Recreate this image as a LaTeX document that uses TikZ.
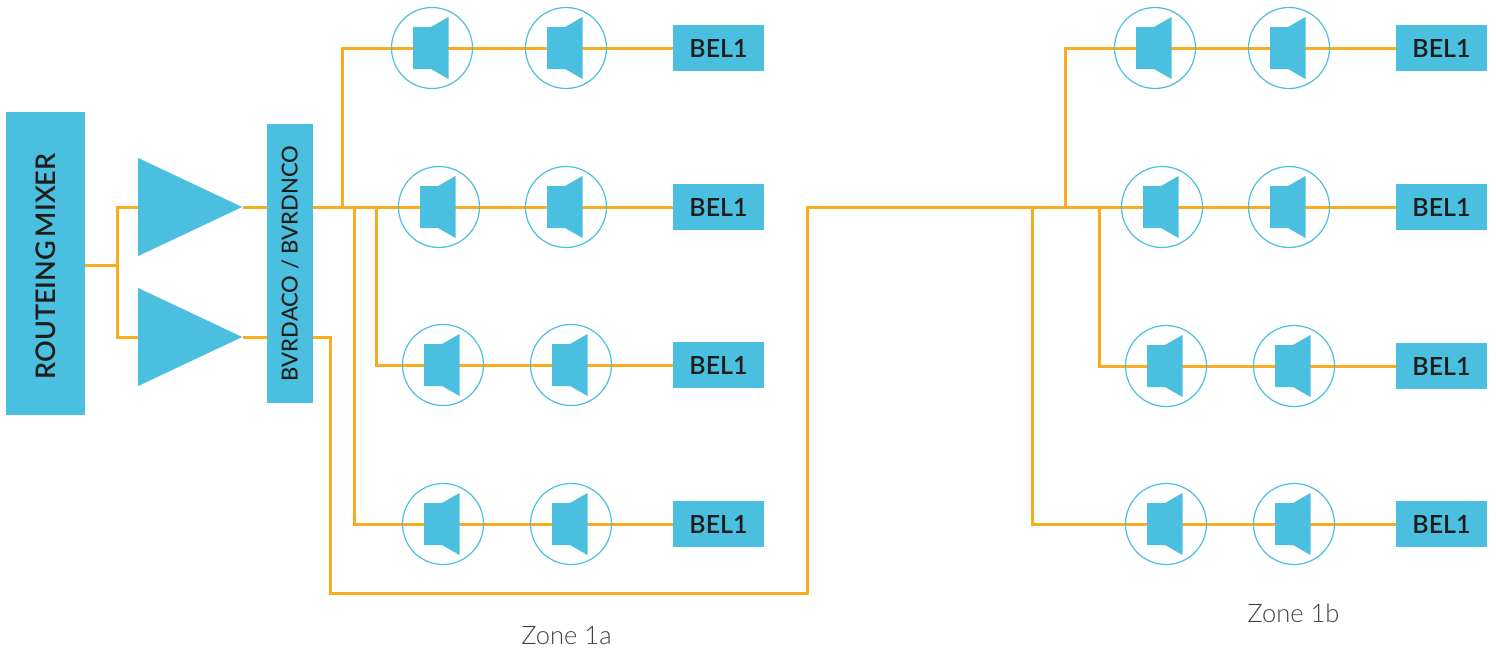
\documentclass[tikz,border=0pt]{standalone}
\usepackage{fontspec}
\setmainfont{Lato Medium}
\newfontfamily\lightfont{Lato Light}
\newfontfamily\semifont{Lato Semibold}
\usetikzlibrary{backgrounds}
\usetikzlibrary{shapes.geometric}
\definecolor{zoneblue}{HTML}{4ABFDF}
\definecolor{wireorange}{HTML}{FBAB1E}
\definecolor{labelblack}{HTML}{1D1D1B}
\tikzset{wire/.style={draw=wireorange, line width=3pt}}
\tikzset{blockbox/.style={fill=zoneblue, text=labelblack, inner sep=0pt}}
\tikzset{belbox/.style={blockbox, minimum width=91pt, minimum height=46pt, font=\fontsize{25}{25}\selectfont\semifont}}
\tikzset{ampl/.style={isosceles triangle, isosceles triangle stretches, fill=zoneblue, inner sep=0pt, minimum width=98pt, minimum height=104pt, anchor=lower side}}
\tikzset{zonelabel/.style={text=labelblack!85, font=\fontsize{25.5}{25.5}\selectfont\lightfont}}
\tikzset{speaker/.pic={
  \node[draw=zoneblue, line width=1.2pt, circle, minimum size=81pt, inner sep=0pt] (-ring) at (0,0) {};
  \fill[zoneblue] (-19,-21) -- (-1,-21) -- (16.5,-31) -- (16.5,31) -- (-1,21) -- (-19,21) -- cycle;
}}

\begin{document}
\begin{tikzpicture}[x=1pt,y=-1pt]
\useasboundingbox (0,0) rectangle (1496,653);
\node[blockbox, minimum width=79pt, minimum height=303pt] (mixer) at (45.5,263.5) {\rotatebox{90}{\fontsize{27}{27}\selectfont\semifont\spaceskip=4pt ROUTEING MIXER\hspace*{6pt}}};
\node[blockbox, minimum width=46pt, minimum height=279pt] (bvrd) at (290,263.5) {\rotatebox{90}{\fontsize{22}{22}\selectfont BVRDACO / BVRDNCO}};
\node[ampl] (amp1) at (138,207) {};
\node[ampl] (amp2) at (138,337) {};
\coordinate (jm) at (117,265);
\coordinate (ja) at (342,207);
\coordinate (jb) at (354,207);
\coordinate (jc) at (376,207);
\coordinate (jd) at (1032,207);
\coordinate (je) at (1065,207);
\coordinate (jf) at (1099,207);
\foreach \row/\xa/\xb/\xc/\yy in {a1/432/566/718.5/48, a2/439/566/718.5/207, a3/443/571/718.5/365, a4/443/571/718.5/524, b1/1155/1289/1441.5/48, b2/1162/1289/1441.5/207, b3/1166/1294/1441.5/366, b4/1166/1294/1441.5/524}
{
  \pic (\row l) at (\xa,\yy) {speaker};
  \pic (\row r) at (\xb,\yy) {speaker};
  \node[belbox] (bel\row) at (\xc,\yy) {BEL1};
  \begin{scope}[on background layer]
    \draw[wire] (\row l-ring.center) -- (bel\row.west);
  \end{scope}
}
\node[zonelabel] (zonea) at (566.5,636) {Zone 1a};
\node[zonelabel] (zoneb) at (1293.5,613) {Zone 1b};
\begin{scope}[on background layer]
\draw[wire] (mixer.east |- jm) -- (jm);
\draw[wire] (amp1.lower side) -| (jm) |- (amp2.lower side);
\draw[wire] (amp1.apex) -- (bvrd.west |- amp1.apex);
\draw[wire] (amp2.apex) -- (bvrd.west |- amp2.apex);
% zone 1a
\draw[wire] (bvrd.east |- ja) -- (a2l-ring.center);
\draw[wire] (ja) |- (a1l-ring.center);
\draw[wire] (jb) |- (a4l-ring.center);
\draw[wire] (jc) |- (a3l-ring.center);
% link to zone 1b
\draw[wire] (bvrd.east |- amp2.apex) -| (330,593) -| (807,207) -- (b2l-ring.center);
\draw[wire] (je) |- (b1l-ring.center);
\draw[wire] (jd) |- (b4l-ring.center);
\draw[wire] (jf) |- (b3l-ring.center);
\end{scope}
\end{tikzpicture}
\end{document}
